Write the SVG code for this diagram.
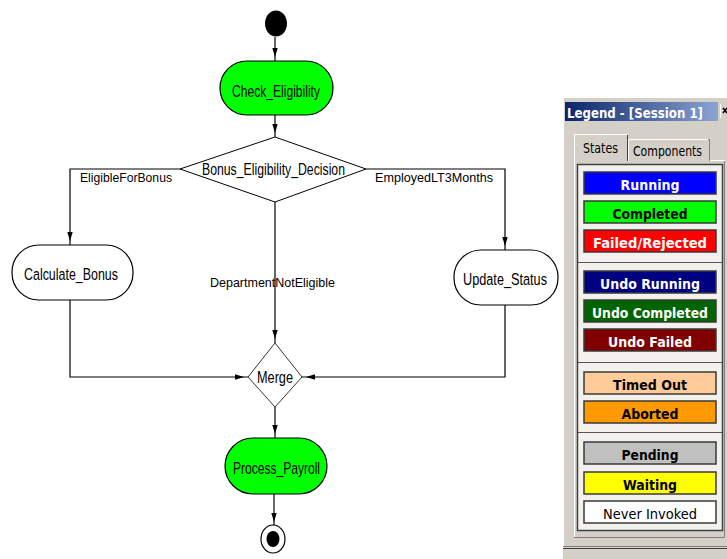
<svg xmlns="http://www.w3.org/2000/svg" width="727" height="559" viewBox="0 0 727 559">
<style>
.node{stroke:#000;stroke-width:1.2}
.act{fill:#00ff00}
.idle{fill:#fff}
.dia{fill:#fff;stroke:#000;stroke-width:1}
.lbl{font-family:"Liberation Sans",Arial,sans-serif;fill:#000}
.nt{font-family:"Liberation Sans",Arial,sans-serif;fill:#000;font-size:13px}
.conn{fill:none;stroke:#000;stroke-width:1.2}
.lg{font-family:"DejaVu Sans",Verdana,sans-serif;font-weight:bold;font-size:14px;text-anchor:middle}
.box{stroke:#3a3a3a;stroke-width:1.5}
</style>
<defs>
<marker id="arr" markerUnits="userSpaceOnUse" viewBox="0 0 13 6" markerWidth="13" markerHeight="6" refX="13" refY="3" orient="auto" overflow="visible">
<path d="M0,0.3 L9,3 L0,5.7 z" fill="#000"/>
</marker>
<linearGradient id="tb" x1="0" y1="0" x2="1" y2="0">
<stop offset="0" stop-color="#0a246a"/>
<stop offset="1" stop-color="#8aa4d2"/>
</linearGradient>
</defs>
<rect width="727" height="559" fill="#fff"/>

<g id="connectors">
<path class="conn" d="M275,37 V61" marker-end="url(#arr)"/>
<path class="conn" d="M275,115 V137" marker-end="url(#arr)"/>
<path class="conn" d="M180,169 H70 V245" marker-end="url(#arr)"/>
<path class="conn" d="M366,169 H505 V250" marker-end="url(#arr)"/>
<path class="conn" d="M275,202 V343" marker-end="url(#arr)"/>
<path class="conn" d="M70,300 V377 H248" marker-end="url(#arr)"/>
<path class="conn" d="M505,305 V377 H302" marker-end="url(#arr)"/>
<path class="conn" d="M275,407 V438" marker-end="url(#arr)"/>
<path class="conn" d="M274,494 V526" marker-end="url(#arr)"/>
<text class="lbl" x="80" y="182" font-size="13.5" textLength="92" lengthAdjust="spacingAndGlyphs">EligibleForBonus</text>
<text class="lbl" x="375" y="182" font-size="13.5" textLength="118" lengthAdjust="spacingAndGlyphs">EmployedLT3Months</text>
<text class="lbl" x="210" y="287" font-size="13.5" textLength="125" lengthAdjust="spacingAndGlyphs">DepartmentNotEligible</text>
</g>

<g id="start"><ellipse cx="276" cy="23.5" rx="11" ry="13" fill="#000"/></g>

<g id="check_eligibility">
<rect class="node act" x="220" y="61" width="113" height="54" rx="27" ry="27"/>
<text class="nt" transform="translate(232,97) scale(1,1.3)" textLength="88" lengthAdjust="spacingAndGlyphs">Check_Eligibility</text>
</g>

<g id="bonus_eligibility_decision">
<polygon class="dia" points="275,137 366,169 275,202 180,169"/>
<text class="nt" transform="translate(202,175) scale(1,1.3)" textLength="143" lengthAdjust="spacingAndGlyphs">Bonus_Eligibility_Decision</text>
</g>

<g id="calculate_bonus">
<rect class="node idle" x="12" y="245" width="121" height="55" rx="27" ry="27"/>
<text class="nt" transform="translate(24,280) scale(1,1.3)" textLength="94" lengthAdjust="spacingAndGlyphs">Calculate_Bonus</text>
</g>

<g id="update_status">
<rect class="node idle" x="454" y="250" width="104" height="55" rx="27" ry="27"/>
<text class="nt" transform="translate(463,285) scale(1,1.3)" textLength="84" lengthAdjust="spacingAndGlyphs">Update_Status</text>
</g>

<g id="merge">
<polygon points="275,343 302,377 275,407 248,377" fill="#fff" stroke="#333" stroke-width="1"/>
<text class="nt" transform="translate(257,383) scale(1,1.3)" textLength="36" lengthAdjust="spacingAndGlyphs">Merge</text>
</g>

<g id="process_payroll">
<rect class="node act" x="225" y="438" width="102" height="56" rx="28" ry="28"/>
<text class="nt" transform="translate(233,474) scale(1,1.3)" textLength="87" lengthAdjust="spacingAndGlyphs">Process_Payroll</text>
</g>

<g id="end">
<ellipse cx="273" cy="539" rx="12" ry="14" fill="#fff" stroke="#000" stroke-width="1.2"/>
<ellipse cx="273" cy="539" rx="6.5" ry="8" fill="#000"/>
</g>

<g id="legend">
<rect x="563" y="97" width="164" height="462" fill="#d4d0c8"/>
<line x1="563.5" y1="97" x2="563.5" y2="549" stroke="#fff"/>
<line x1="563" y1="97.5" x2="727" y2="97.5" stroke="#fff"/>
<line x1="563" y1="546.5" x2="727" y2="546.5" stroke="#808080"/>
<line x1="563" y1="548.5" x2="727" y2="548.5" stroke="#404040"/>
<rect x="565" y="102" width="153" height="19" fill="url(#tb)"/>
<text x="567" y="118" font-family="DejaVu Sans,Verdana,sans-serif" font-weight="bold" font-size="14" fill="#fff" textLength="136" lengthAdjust="spacingAndGlyphs">Legend - [Session 1]</text>
<rect x="720" y="104" width="10" height="14" fill="#d4d0c8"/>
<line x1="720.5" y1="104" x2="720.5" y2="118" stroke="#fff"/>
<path d="M723,108 L727,113 M727,108 L723,113" stroke="#000" stroke-width="1.5" fill="none"/>
<rect x="574" y="160" width="151" height="378" fill="#d4d0c8"/>
<path d="M574.5,538 V160.5 H725" fill="none" stroke="#fff"/>
<path d="M574,537.5 H724.5 V161" fill="none" stroke="#808080"/>
<path d="M628,161 V139.5 H709.5 V161" fill="#d4d0c8" stroke="#808080"/>
<path d="M628.5,161 V139.5 H708" fill="none" stroke="#fff"/>
<text x="633" y="156" font-family="DejaVu Sans,Verdana,sans-serif" font-size="14" textLength="69" lengthAdjust="spacingAndGlyphs">Components</text>
<path d="M574,162 V134.5 H627.5 V162 Z" fill="#d4d0c8"/>
<path d="M574.5,162 V134.5 H627" fill="none" stroke="#fff"/>
<line x1="627.5" y1="135" x2="627.5" y2="161" stroke="#404040"/>
<text x="583" y="153" font-family="DejaVu Sans,Verdana,sans-serif" font-size="14" textLength="35" lengthAdjust="spacingAndGlyphs">States</text>
<rect x="577.5" y="164.5" width="145" height="366" fill="#f2f1ed" stroke="#404040" stroke-width="1.5"/>
<line x1="578" y1="262.5" x2="722" y2="262.5" stroke="#555"/>
<line x1="578" y1="362.5" x2="722" y2="362.5" stroke="#555"/>
<line x1="578" y1="432.5" x2="722" y2="432.5" stroke="#555"/>
<rect class="box" x="584" y="172" width="132" height="22" fill="#0000ff"/>
<text class="lg" x="650" y="190" fill="#fff" textLength="59" lengthAdjust="spacingAndGlyphs">Running</text>
<rect class="box" x="584" y="201" width="132" height="22" fill="#00ff00"/>
<text class="lg" x="650" y="219" fill="#000" textLength="75" lengthAdjust="spacingAndGlyphs">Completed</text>
<rect class="box" x="584" y="230" width="132" height="22" fill="#ff0000"/>
<text class="lg" x="650" y="248" fill="#fff" textLength="114" lengthAdjust="spacingAndGlyphs">Failed/Rejected</text>
<rect class="box" x="584" y="271" width="132" height="22" fill="#000080"/>
<text class="lg" x="650" y="289" fill="#fff" textLength="100" lengthAdjust="spacingAndGlyphs">Undo Running</text>
<rect class="box" x="584" y="300" width="132" height="22" fill="#006400"/>
<text class="lg" x="650" y="318" fill="#fff" textLength="116" lengthAdjust="spacingAndGlyphs">Undo Completed</text>
<rect class="box" x="584" y="329" width="132" height="22" fill="#800000"/>
<text class="lg" x="650" y="347" fill="#fff" textLength="84" lengthAdjust="spacingAndGlyphs">Undo Failed</text>
<rect class="box" x="584" y="372" width="132" height="22" fill="#ffcc99"/>
<text class="lg" x="650" y="390" fill="#000" textLength="74" lengthAdjust="spacingAndGlyphs">Timed Out</text>
<rect class="box" x="584" y="401" width="132" height="22" fill="#ff9900"/>
<text class="lg" x="650" y="419" fill="#000" textLength="57" lengthAdjust="spacingAndGlyphs">Aborted</text>
<rect class="box" x="584" y="442" width="132" height="22" fill="#c0c0c0"/>
<text class="lg" x="650" y="460" fill="#000" textLength="57" lengthAdjust="spacingAndGlyphs">Pending</text>
<rect class="box" x="584" y="472" width="132" height="22" fill="#ffff00"/>
<text class="lg" x="650" y="490" fill="#000" textLength="54" lengthAdjust="spacingAndGlyphs">Waiting</text>
<rect class="box" x="584" y="501" width="132" height="22" fill="#fff"/>
<text x="650" y="518.5" font-family="DejaVu Sans,Verdana,sans-serif" font-size="14" text-anchor="middle" fill="#000" textLength="94" lengthAdjust="spacingAndGlyphs">Never Invoked</text>
</g>
</svg>
